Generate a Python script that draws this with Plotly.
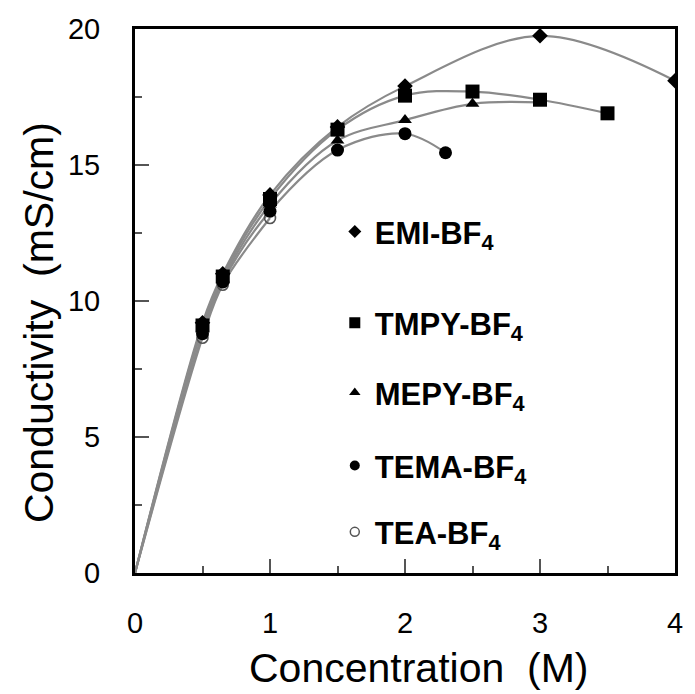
import plotly.graph_objects as go

# ---- data ----
conc_emi = [0.5, 0.65, 1.0, 1.5, 2.0, 3.0, 4.0]
cond_emi = [9.2, 11.0, 13.9, 16.4, 17.9, 19.75, 18.1]

conc_tmpy = [0.5, 0.65, 1.0, 1.5, 2.0, 2.5, 3.0, 3.5]
cond_tmpy = [9.1, 10.9, 13.75, 16.3, 17.55, 17.7, 17.4, 16.9]

conc_mepy = [0.5, 0.65, 1.0, 1.5, 2.0, 2.5, 3.0]
cond_mepy = [9.0, 10.8, 13.55, 15.9, 16.65, 17.25, 17.3]

conc_tema = [0.5, 0.65, 1.0, 1.5, 2.0, 2.3]
cond_tema = [8.8, 10.7, 13.3, 15.55, 16.15, 15.45]

conc_tea = [0.5, 0.65, 1.0]
cond_tea = [8.65, 10.6, 13.05]

origin_x, origin_y = 0.0, 0.0

names = ["EMI-BF<sub>4</sub>", "TMPY-BF<sub>4</sub>", "MEPY-BF<sub>4</sub>",
         "TEMA-BF<sub>4</sub>", "TEA-BF<sub>4</sub>"]

x_ticks = [0, 1, 2, 3, 4]
y_ticks = [0, 5, 10, 15, 20]

# ---- styles ----
FONT = "Liberation Sans, Arial, Helvetica, sans-serif"
LINE_COLOR = "#8a8a8a"

series = [
    (conc_tea, cond_tea, dict(symbol="circle-open", size=11, color="#555555", line=dict(width=1.6, color="#555555"))),
    (conc_tema, cond_tema, dict(symbol="circle", size=13, color="black")),
    (conc_mepy, cond_mepy, dict(symbol="triangle-up", size=12, color="black")),
    (conc_emi, cond_emi, dict(symbol="diamond", size=12, color="black")),
    (conc_tmpy, cond_tmpy, dict(symbol="square", size=14, color="black")),
]

fig = go.Figure()

# smooth gray curves from the origin through each series
for xs, ys, _ in series:
    fig.add_trace(go.Scatter(
        x=[origin_x] + xs, y=[origin_y] + ys, mode="lines",
        line=dict(color=LINE_COLOR, width=2.2, shape="spline", smoothing=1.0),
        showlegend=False, hoverinfo="skip"))

# markers on top
for xs, ys, mk in series:
    fig.add_trace(go.Scatter(x=xs, y=ys, mode="markers", marker=mk, showlegend=False))

# legend entries (one legend per entry so they can be spaced like the reference)
legend_marks = [
    dict(symbol="diamond", size=10, color="black"),
    dict(symbol="square", size=11, color="black"),
    dict(symbol="triangle-up", size=10, color="black"),
    dict(symbol="circle", size=10, color="black"),
    dict(symbol="circle-open", size=9, color="#555555", line=dict(width=1.5, color="#555555")),
]
legend_ids = ["legend", "legend2", "legend3", "legend4", "legend5"]
legend_y = [0.627, 0.4596, 0.331, 0.197, 0.075]

for name, mk, lid in zip(names, legend_marks, legend_ids):
    fig.add_trace(go.Scatter(x=[None], y=[None], mode="markers", marker=mk,
                             name="<b>" + name + "</b>", legend=lid, showlegend=True))

leg_common = dict(x=0.370, xanchor="left", yanchor="middle", bgcolor="rgba(0,0,0,0)",
                  borderwidth=0, font=dict(family=FONT, size=31, color="black"))
layout_legends = {lid: dict(y=yy, **leg_common) for lid, yy in zip(legend_ids, legend_y)}

axis_common = dict(
    showline=True, linewidth=3, linecolor="black", mirror=True,
    showgrid=False, zeroline=False,
    ticks="inside", ticklen=14, tickwidth=2, tickcolor="#555555",
    tickfont=dict(family=FONT, size=29, color="black"),
)

fig.update_layout(
    width=695, height=694,
    margin=dict(l=135, r=12, t=29, b=121),
    paper_bgcolor="white", plot_bgcolor="white",
    font=dict(family=FONT, color="black"),
    xaxis=dict(range=[0, 4], tickvals=x_ticks,
               minor=dict(dtick=0.5, ticks="inside", ticklen=7, tickwidth=2, tickcolor="#555555"),
               ticklabelstandoff=22, **axis_common),
    yaxis=dict(range=[0, 20], tickvals=y_ticks,
               minor=dict(dtick=2.5, ticks="inside", ticklen=7, tickwidth=2, tickcolor="#555555"),
               ticklabelstandoff=26, **axis_common),
    annotations=[
        dict(text="Concentration  (M)", xref="paper", yref="paper", x=0.525, y=-0.175,
             xanchor="center", yanchor="middle", showarrow=False,
             font=dict(family=FONT, size=41, color="black")),
        dict(text="Conductivity  (mS/cm)", xref="paper", yref="paper", x=-0.179, y=0.46,
             xanchor="center", yanchor="middle", showarrow=False, textangle=-90,
             font=dict(family=FONT, size=41, color="black")),
    ],
    **layout_legends,
)

fig.write_html("out.html")
